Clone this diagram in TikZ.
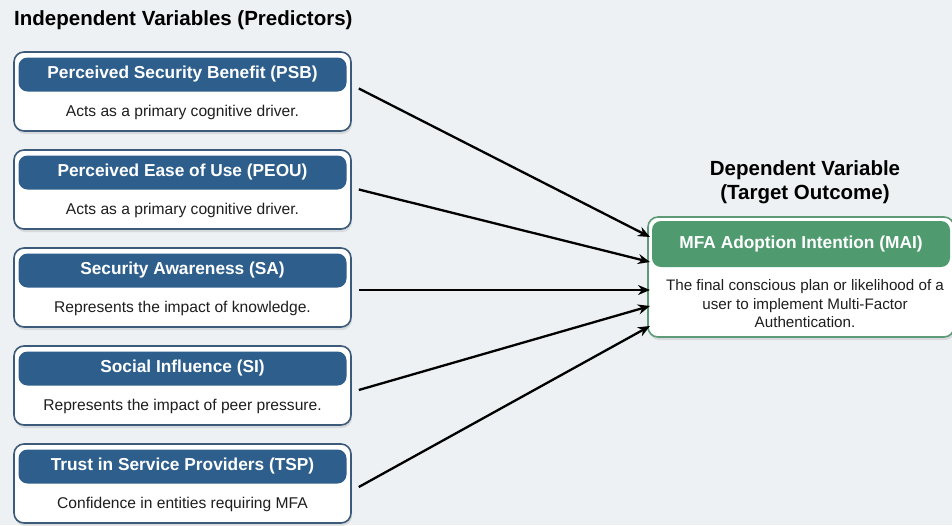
\documentclass[tikz,border=0pt]{standalone}
\usepackage{fontspec}
\setmainfont{Liberation Sans}
\usetikzlibrary{shadows,arrows.meta}
\definecolor{bgc}{HTML}{EDF1F3}
\definecolor{hblue}{HTML}{2E5F8C}
\definecolor{hgreen}{HTML}{4F9B6F}
\definecolor{bord}{HTML}{3C5A7A}
\definecolor{gbord}{HTML}{5E9A78}
\definecolor{txt}{HTML}{1E1E1E}
\tikzset{
  outerbox/.style={draw=bord, line width=1.6pt, fill=white, rounded corners=10pt,
    minimum width=337pt, minimum height=79pt, inner sep=0pt,
    drop shadow={opacity=0.2, shadow xshift=1pt, shadow yshift=-3pt}},
  headbox/.style={fill=hblue, rounded corners=9pt, minimum width=328pt, minimum height=34pt,
    inner sep=0pt, text=white, font=\fontsize{17.3}{20}\selectfont\bfseries},
  bodytxt/.style={text=txt, font=\fontsize{15.6}{18}\selectfont, inner sep=0pt},
  arr/.style={line width=2.3pt, -{Stealth[length=12pt,width=10pt]}},
  titletxt/.style={text=black, font=\fontsize{20.5}{24}\selectfont\bfseries, inner sep=0pt}
}
\newcommand{\predbox}[4]{%
  \node[outerbox] (#1) at (182.5,#2) {};
  \node[headbox] (#1h) at (182.5,#2-17) {#3};
  \node[bodytxt] (#1t) at (182.5,#2+20.5) {#4};
}
\begin{document}
\begin{tikzpicture}[x=1pt,y=-1pt]
\fill[bgc] (0,0) rectangle (952,525);
\useasboundingbox (0,0) rectangle (952,525);
\node[titletxt, anchor=west] (ttl) at (14,20) {Independent Variables (Predictors)};
\predbox{psb}{91.5}{Perceived Security Benefit (PSB)}{Acts as a primary cognitive driver.}
\predbox{peou}{189.5}{Perceived Ease of Use (PEOU)}{Acts as a primary cognitive driver.}
\predbox{sa}{287.5}{Security Awareness (SA)}{Represents the impact of knowledge.}
\predbox{si}{385.5}{Social Influence (SI)}{Represents the impact of peer pressure.}
\predbox{tsp}{483.5}{Trust in Service Providers (TSP)}{Confidence in entities requiring MFA}
% target
\node[titletxt, align=center, font=\fontsize{20.5}{24}\selectfont\bfseries] (dtl) at (805,182) {Dependent Variable\\(Target Outcome)};
\node[draw=gbord, line width=1.6pt, fill=white, rounded corners=10pt, minimum width=306pt,
  minimum height=120pt, inner sep=0pt,
  drop shadow={opacity=0.2, shadow xshift=1pt, shadow yshift=-3pt}] (mai) at (801,277) {};
\node[fill=hgreen, rounded corners=9pt, minimum width=298pt, minimum height=46pt, inner sep=0pt,
  text=white, font=\fontsize{17.3}{20}\selectfont\bfseries] (maih) at (801,244) {MFA Adoption Intention (MAI)};
\node[bodytxt, align=center, font=\fontsize{15.2}{18.5}\selectfont] (mait) at (805,304)
  {The final conscious plan or likelihood of a\\user to implement Multi-Factor\\Authentication.};
% arrows
\coordinate (e1) at (650,237);
\coordinate (e2) at (650,262);
\coordinate (e3) at (650,290);
\coordinate (e4) at (650,306);
\coordinate (e5) at (650,326);
\draw[arr] ([xshift=7pt,yshift=3pt]psb.east) -- (e1);
\draw[arr] ([xshift=7pt]peou.east) -- (e2);
\draw[arr] ([xshift=7pt,yshift=-2.5pt]sa.east) -- (e3);
\draw[arr] ([xshift=7pt,yshift=-4.5pt]si.east) -- (e4);
\draw[arr] ([xshift=7pt,yshift=-3.5pt]tsp.east) -- (e5);
\end{tikzpicture}
\end{document}
